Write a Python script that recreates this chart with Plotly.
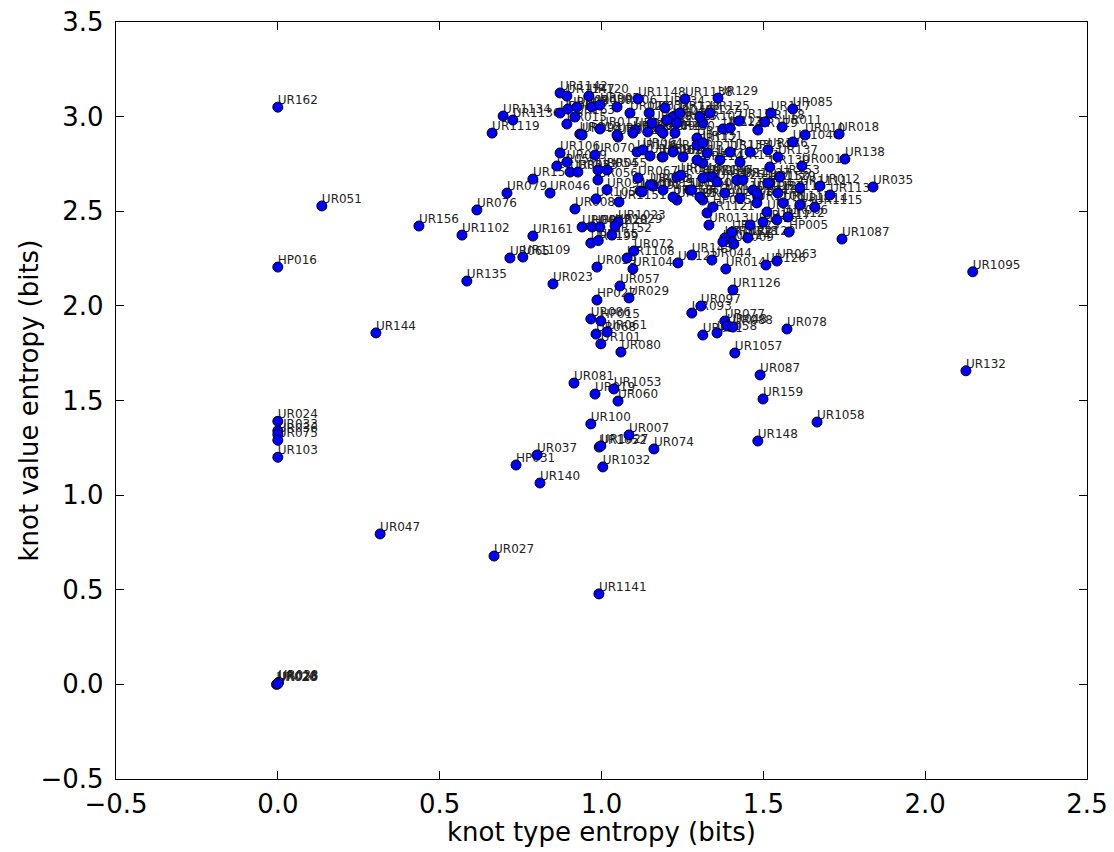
import plotly.graph_objects as go

# ---- isolated points on the left (knot type entropy = 0) ----
names_a = ["UR162", "HP016", "UR024", "UR033", "UR036", "UR075", "UR103",
           "UR028", "UR020", "UR038", "UR026"]
x_a = [0.0, 0.0, 0.0, 0.0, 0.0, 0.0, 0.0, 0.0, -0.004, 0.002, 0.0]
y_a = [3.05, 2.205, 1.39, 1.34, 1.32, 1.29, 1.20, 0.006, 0.0, 0.01, 0.003]

# ---- outer labelled points ----
names_b = ["UR051", "UR156", "UR1102", "UR076", "UR135", "UR144", "UR047", "UR027", "UR1141", "UR140",
           "HP031", "UR037", "UR1032", "UR1052", "UR1027", "UR007", "UR074", "UR100", "UR081", "UR019",
           "UR1053", "UR060", "UR148", "UR1058", "UR159", "UR087", "UR1057", "UR078", "UR077", "UR048",
           "UR088", "UR021", "UR058", "UR097", "UR093", "UR086", "HP015", "UR068", "UR061", "UR101",
           "UR080", "UR1126", "UR132", "UR1095"]
x_b = [0.136, 0.436, 0.569, 0.615, 0.584, 0.303, 0.316, 0.668, 0.992, 0.810,
       0.736, 0.801, 1.004, 0.993, 0.998, 1.085, 1.162, 0.967, 0.915, 0.980,
       1.038, 1.051, 1.483, 1.666, 1.499, 1.490, 1.412, 1.573, 1.381, 1.388,
       1.406, 1.313, 1.357, 1.307, 1.279, 0.967, 0.998, 0.983, 1.017, 0.998,
       1.060, 1.406, 2.126, 2.147]
y_b = [2.528, 2.422, 2.374, 2.507, 2.131, 1.857, 0.795, 0.678, 0.478, 1.064,
       1.159, 1.212, 1.149, 1.254, 1.260, 1.318, 1.244, 1.376, 1.592, 1.534,
       1.561, 1.497, 1.286, 1.386, 1.508, 1.635, 1.751, 1.878, 1.920, 1.894,
       1.888, 1.846, 1.857, 1.999, 1.962, 1.931, 1.920, 1.851, 1.862, 1.799,
       1.756, 2.084, 1.657, 2.180]

# ---- labelled points on the edge of the main cluster ----
names_c = ["UR1087", "UR035", "UR113", "UR012", "UR138", "UR018", "UR010", "UR1040", "UR001", "UR085",
           "UR011", "HP005", "UR066", "UR126", "UR063", "UR014", "UR044", "UR122", "UR145", "UR009",
           "UR1121", "HP025", "UR013", "UR029", "HP027", "UR057", "UR104", "UR072", "UR1108", "UR039",
           "UR023", "UR065", "UR1109", "UR1199", "UR155", "UR161", "UR152", "UR1023", "UR049", "HP022",
           "UR1028", "UR1029", "UR008", "UR079", "UR046", "UR151", "UR1119", "UR1134", "UR1136", "UR1142",
           "UR1147", "UR120", "UR1148", "UR1138", "UR129", "UR106", "UR116", "UR163", "UR108", "UR1151",
           "UR105", "UR030"]
x_c = [1.743, 1.839, 1.706, 1.675, 1.752, 1.734, 1.629, 1.591, 1.619, 1.591,
       1.558, 1.579, 1.576, 1.508, 1.542, 1.384, 1.341, 1.236, 1.279, 1.409,
       1.326, 1.344, 1.332, 1.085, 0.986, 1.057, 1.097, 1.100, 1.079, 0.986,
       0.850, 0.717, 0.757, 0.967, 0.990, 0.788, 1.032, 1.051, 0.940, 0.971,
       0.995, 1.042, 0.918, 0.708, 0.841, 0.788, 0.662, 0.696, 0.726, 0.872,
       0.893, 0.961, 1.113, 1.258, 1.360, 0.872, 1.110, 0.918, 1.159, 1.054,
       0.983, 0.970]
y_c = [2.353, 2.628, 2.586, 2.633, 2.776, 2.908, 2.903, 2.866, 2.739, 3.040,
       2.945, 2.390, 2.470, 2.216, 2.237, 2.195, 2.242, 2.227, 2.269, 2.327,
       2.491, 2.522, 2.427, 2.042, 2.031, 2.105, 2.195, 2.290, 2.253, 2.205,
       2.116, 2.253, 2.258, 2.332, 2.345, 2.369, 2.374, 2.443, 2.417, 2.417,
       2.417, 2.422, 2.512, 2.596, 2.596, 2.670, 2.913, 3.003, 2.982, 3.125,
       3.109, 3.109, 3.093, 3.093, 3.098, 2.808, 2.813, 2.998, 2.633, 2.549,
       2.565, 3.051]

# ---- dense core of the cluster ----
names_d = ["UR002", "UR003", "UR004", "UR005", "UR006", "UR015", "UR016", "UR017", "UR022", "UR025",
           "UR031", "UR032", "UR034", "UR040", "UR041", "UR042", "UR043", "UR045", "UR050", "UR052",
           "UR053", "UR054", "UR055", "UR056", "UR059", "UR062", "UR064", "UR067", "UR069", "UR070",
           "UR071", "UR073", "UR082", "UR083", "UR084", "UR089", "UR090", "UR091", "UR092", "UR094",
           "UR095", "UR096", "UR098", "UR099", "UR102", "UR107", "UR109", "UR110", "UR111", "UR112",
           "UR114", "UR115", "UR117", "UR118", "UR119", "UR121", "UR123", "UR124", "UR125", "UR127",
           "UR128", "UR130", "UR131", "UR133", "UR134", "UR136", "UR137", "UR139", "UR141", "UR142",
           "UR143", "UR146", "UR147", "UR149", "UR150", "UR153", "UR154", "UR157", "UR158", "UR160",
           "UR1101", "UR1103", "UR1104", "UR1105", "UR1106", "UR1107", "UR1110", "UR1111", "UR1112", "UR1113",
           "UR1114", "UR1115", "UR1116", "UR1117", "UR1118", "UR1120", "UR1122", "UR1123", "UR1124", "UR1125",
           "UR1127", "UR1128", "UR1129", "UR1130"]
x_d = [0.872, 0.896, 0.924, 0.995, 1.048, 0.893, 0.933, 0.995, 1.051, 1.088,
       1.103, 1.147, 1.196, 1.221, 1.143, 1.181, 1.202, 1.233, 0.862, 0.903,
       0.927, 0.989, 1.017, 0.989, 1.150, 1.187, 1.128, 1.113, 0.893, 0.980,
       1.119, 1.150, 1.233, 1.233, 1.273, 1.326, 1.313, 1.017, 1.125, 0.940,
       1.048, 1.097, 1.156, 1.190, 1.295, 1.313, 1.190, 1.221, 1.252, 1.295,
       1.313, 1.326, 1.523, 1.505, 1.483, 1.425, 1.375, 1.397, 1.335, 1.304,
       1.242, 1.227, 1.313, 1.397, 1.459, 1.514, 1.545, 1.520, 1.428, 1.366,
       1.295, 1.245, 1.344, 1.418, 1.520, 1.551, 1.468, 1.190, 1.221, 1.279,
       1.304, 1.381, 1.428, 1.483, 1.480, 1.511, 1.545, 1.613, 1.542, 1.561,
       1.613, 1.659, 1.459, 1.499, 1.397, 1.452, 1.381, 1.403, 1.375, 1.357,
       1.437, 1.480, 1.514, 1.313]
y_d = [3.019, 3.040, 3.051, 3.061, 3.051, 2.961, 2.908, 2.935, 2.892, 3.019,
       2.929, 3.019, 3.046, 2.998, 2.919, 2.929, 2.982, 2.966, 2.739, 2.707,
       2.707, 2.718, 2.718, 2.665, 2.792, 2.787, 2.824, 2.676, 2.760, 2.797,
       2.607, 2.639, 2.681, 2.559, 2.612, 2.681, 2.559, 2.614, 2.602, 2.903,
       2.903, 2.913, 2.966, 2.913, 2.887, 2.966, 2.787, 2.813, 2.787, 2.850,
       2.755, 2.808, 3.019, 2.972, 2.929, 2.977, 2.935, 2.940, 3.019, 2.998,
       3.019, 2.913, 2.861, 2.813, 2.813, 2.824, 2.787, 2.734, 2.760, 2.771,
       2.771, 2.690, 2.681, 2.665, 2.649, 2.681, 2.612, 2.612, 2.575, 2.612,
       2.575, 2.596, 2.570, 2.575, 2.544, 2.496, 2.596, 2.623, 2.454, 2.544,
       2.533, 2.522, 2.427, 2.443, 2.359, 2.359, 2.359, 2.390, 2.338, 2.655,
       2.665, 2.596, 2.649, 2.676]

names = names_a + names_b + names_c + names_d
type_entropy = x_a + x_b + x_c + x_d
value_entropy = y_a + y_b + y_c + y_d
assert len(names) == len(type_entropy) == len(value_entropy)

x_ticks = [-0.5, 0.0, 0.5, 1.0, 1.5, 2.0, 2.5]
y_ticks = [-0.5, 0.0, 0.5, 1.0, 1.5, 2.0, 2.5, 3.0, 3.5]
x_title = "knot type entropy (bits)"
y_title = "knot value entropy (bits)"

FONT = "DejaVu Sans"

fig = go.Figure()
# labels first so the markers are drawn over them
fig.add_trace(go.Scatter(
    x=type_entropy, y=value_entropy, text=names, mode="text",
    textposition="top right",
    textfont=dict(family=FONT, size=12, color="#222222"),
    hoverinfo="skip", showlegend=False,
))
fig.add_trace(go.Scatter(
    x=type_entropy, y=value_entropy, mode="markers",
    marker=dict(size=10, color="#0000ff", line=dict(color="black", width=1)),
    text=names, showlegend=False,
))

axis_common = dict(
    showgrid=False, zeroline=False, showline=True, linecolor="black", linewidth=1.3,
    mirror="ticks", ticks="inside", ticklen=8, tickwidth=1, tickcolor="black",
    tickfont=dict(family=FONT, size=26, color="black"),
    tickformat=".1f", automargin=False,
)

L, R, T, B = 116, 27, 22, 73
W, H = 1114, 852
plot_w = W - L - R
plot_h = H - T - B

fig.update_layout(
    width=W, height=H,
    margin=dict(l=L, r=R, t=T, b=B),
    paper_bgcolor="white", plot_bgcolor="white",
    font=dict(family=FONT, color="black"),
    xaxis=dict(range=[-0.5, 2.5], tickvals=x_ticks, ticklabelstandoff=2, **axis_common),
    yaxis=dict(range=[-0.5, 3.5], tickvals=y_ticks, ticklabelstandoff=6, **axis_common),
    annotations=[
        dict(text=x_title, xref="paper", yref="paper", x=0.5, y=-53 / plot_h,
             xanchor="center", yanchor="middle", showarrow=False,
             font=dict(family=FONT, size=26, color="black")),
        dict(text=y_title, xref="paper", yref="paper", x=-(L - 28) / plot_w, y=0.5,
             xanchor="center", yanchor="middle", textangle=-90, showarrow=False,
             font=dict(family=FONT, size=26, color="black")),
    ],
)

fig.write_html("out.html")
